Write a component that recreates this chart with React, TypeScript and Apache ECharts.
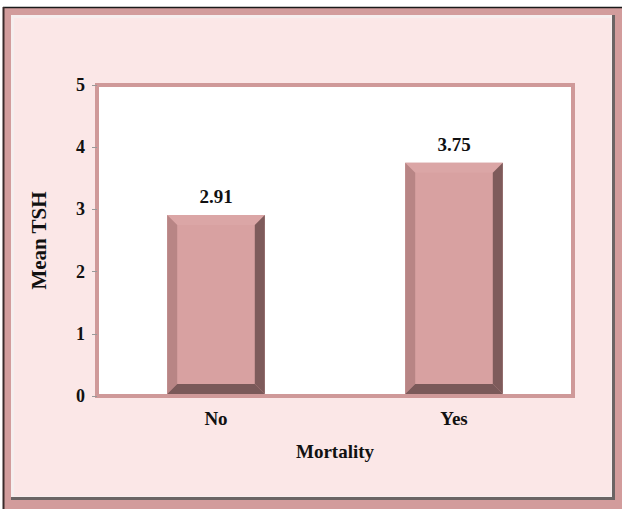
import React, { useEffect, useRef } from "react";
import * as echarts from "echarts";

const categories: string[] = ["No", "Yes"];
const meanTSH: number[] = [2.91, 3.75];
const yTicks = { min: 0, max: 5, interval: 1 };

const FONT = "'Liberation Serif', 'Times New Roman', serif";

export default function App() {
  const ref = useRef<HTMLDivElement>(null);

  useEffect(() => {
    if (!ref.current) return;
    const chart = echarts.init(ref.current, undefined, { renderer: "svg" });

    const W = 622;
    const H = 509;

    const option: any = {
      animation: false,
      backgroundColor: "#ffffff",
      textStyle: { fontFamily: FONT },
      graphic: [
        // outer frame band
        { type: "rect", z: -10, shape: { x: 3, y: 7, width: W - 3, height: H - 7 }, style: { fill: "#d29c9c" } },
        { type: "line", z: -9, shape: { x1: 3, y1: 7.5, x2: W, y2: 7.5 }, style: { stroke: "#1a1a1a", lineWidth: 1.5 } },
        { type: "line", z: -9, shape: { x1: 3.5, y1: 7, x2: 3.5, y2: H }, style: { stroke: "#3a2a2a", lineWidth: 2 } },
        // bevel: dark bottom/right, light top/left
        { type: "rect", z: -9, shape: { x: 11, y: 15, width: 604, height: 485 }, style: { fill: "#6a6464" } },
        { type: "rect", z: -9, shape: { x: 11, y: 15, width: 601, height: 482 }, style: { fill: "#f6eeee" } },
        { type: "rect", z: -8, shape: { x: 14, y: 18, width: 597, height: 478 }, style: { fill: "#fbe7e7" } },
      ],
      grid: {
        left: 97,
        right: 49,
        top: 85,
        bottom: 113,
        show: true,
        backgroundColor: "#ffffff",
        borderColor: "#cf9999",
        borderWidth: 4,
        z: 0,
      },
      xAxis: {
        type: "category",
        data: categories,
        name: "Mortality",
        nameLocation: "middle",
        nameGap: 46,
        nameTextStyle: { fontFamily: FONT, fontWeight: "bold", fontSize: 19, color: "#111" },
        axisLine: { show: true, lineStyle: { color: "#cf9999", width: 4 } },
        axisTick: { show: false },
        axisLabel: { margin: 13, fontFamily: FONT, fontWeight: "bold", fontSize: 19, color: "#111" },
      },
      yAxis: {
        type: "value",
        min: yTicks.min,
        max: yTicks.max,
        interval: yTicks.interval,
        name: "Mean TSH",
        nameLocation: "middle",
        nameGap: 48,
        nameRotate: 90,
        nameTextStyle: { fontFamily: FONT, fontWeight: "bold", fontSize: 21, color: "#111" },
        axisLine: { show: true, lineStyle: { color: "#cf9999", width: 4 } },
        axisTick: { show: true, inside: false, length: 5, lineStyle: { color: "#999", width: 1 } },
        axisLabel: { margin: 12, fontFamily: FONT, fontWeight: "bold", fontSize: 18, color: "#111" },
        splitLine: { show: false },
      },
      series: [
        {
          type: "custom",
          data: meanTSH.map((v, i) => [i, v]),
          encode: { x: 0, y: 1 },
          z: 5,
          renderItem: (params: any, api: any) => {
            const i = api.value(0);
            const v = api.value(1);
            const top = api.coord([i, v]);
            const base = api.coord([i, 0]);
            const band = api.size([1, 0])[0];
            const w = band * 0.41;
            const x0 = top[0] - w / 2;
            const x1 = top[0] + w / 2;
            const y0 = top[1];
            const y1 = base[1] - 2;
            const b = 10;
            return {
              type: "group",
              children: [
                { type: "rect", shape: { x: x0, y: y0, width: w, height: y1 - y0 }, style: { fill: "#d8a1a1" } },
                {
                  type: "polygon",
                  shape: { points: [[x0, y0], [x1, y0], [x1 - b, y0 + b], [x0 + b, y0 + b]] },
                  style: { fill: "#dba6a6" },
                },
                {
                  type: "polygon",
                  shape: { points: [[x0, y0], [x0 + b, y0 + b], [x0 + b, y1 - b], [x0, y1]] },
                  style: { fill: "#b88585" },
                },
                {
                  type: "polygon",
                  shape: { points: [[x1, y0], [x1, y1], [x1 - b, y1 - b], [x1 - b, y0 + b]] },
                  style: { fill: "#7e5b5b" },
                },
                {
                  type: "polygon",
                  shape: { points: [[x0, y1], [x1, y1], [x1 - b, y1 - b], [x0 + b, y1 - b]] },
                  style: { fill: "#7a5959" },
                },
                {
                  type: "text",
                  style: {
                    text: v.toFixed(2),
                    x: top[0],
                    y: y0 - 9,
                    align: "center",
                    verticalAlign: "bottom",
                    fontFamily: FONT,
                    fontWeight: "bold",
                    fontSize: 19,
                    fill: "#111",
                  },
                },
              ],
            };
          },
        },
      ],
    };

    chart.setOption(option);
    return () => chart.dispose();
  }, []);

  return (
    <div
      ref={ref}
      style={{ position: "fixed", left: 0, top: 0, width: 622, height: 509 }}
    />
  );
}
